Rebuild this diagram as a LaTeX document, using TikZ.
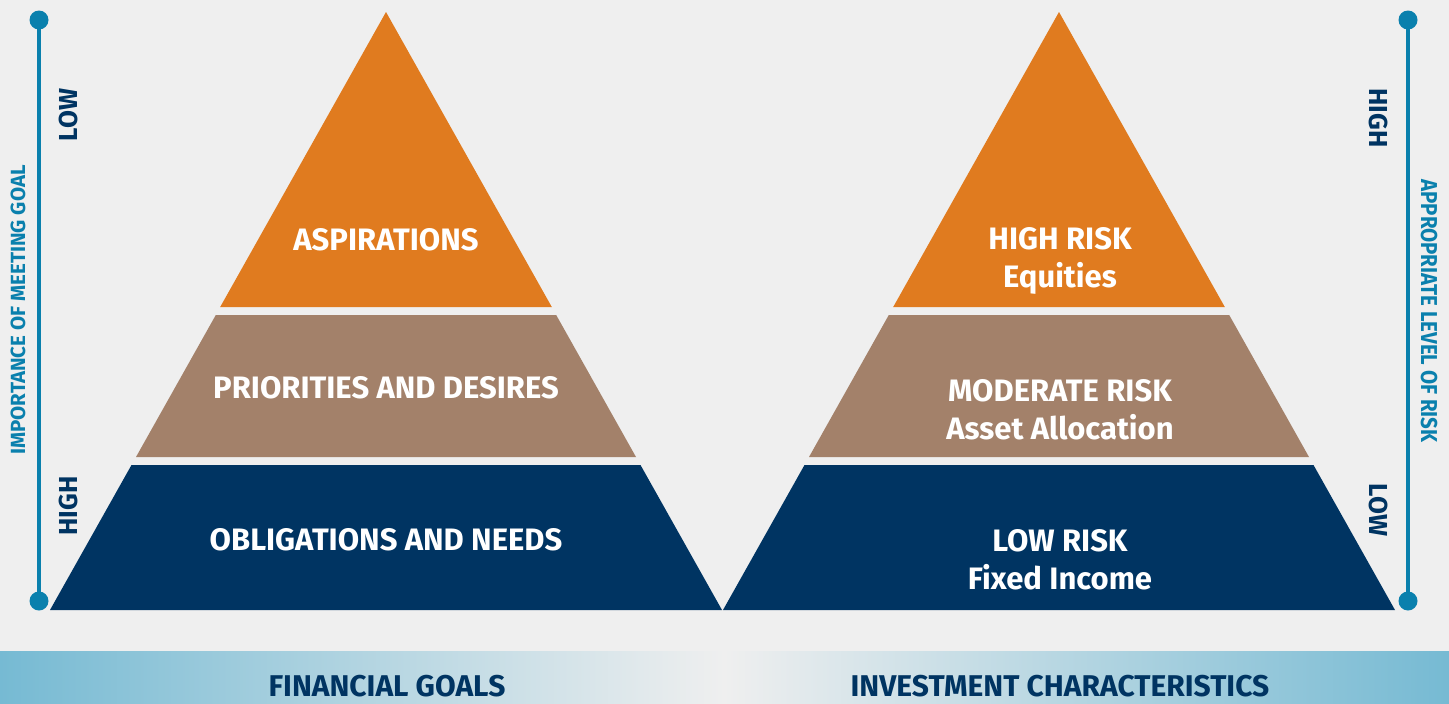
\documentclass[tikz,border=0pt]{standalone}
\usepackage{fontspec}
\setmainfont{Fira Sans}
\newfontfamily\riskfont[FakeStretch=0.89]{Fira Sans}
\usepackage{xcolor}
\usetikzlibrary{positioning}

\definecolor{bgGrey}{HTML}{EFEFEF}
\definecolor{goldOrange}{HTML}{E07B1F}
\definecolor{taupe}{HTML}{A3816A}
\definecolor{navy}{HTML}{003462}
\definecolor{axisBlue}{HTML}{0A80AD}
\definecolor{bandBlue}{HTML}{76BAD3}

\tikzset{
  tier/.style={white, font=\bfseries\fontsize{31}{38}\selectfont, align=center, inner sep=0pt},
  scalelabel/.style={navy, font=\bfseries\fontsize{26}{26}\selectfont, inner sep=0pt},
  axistitle/.style={axisBlue, font=\bfseries\fontsize{20.5}{20.5}\selectfont, inner sep=0pt},
  risktitle/.style={axisBlue, font=\riskfont\bfseries\fontsize{23}{23}\selectfont, inner sep=0pt},
  footer/.style={navy, font=\bfseries\fontsize{30}{30}\selectfont, inner sep=0pt},
  dot/.style={circle, fill=axisBlue, inner sep=0pt, minimum size=19pt},
}

\begin{document}
\begin{tikzpicture}[x=1pt, y=-1pt]
  \useasboundingbox (0,0) rectangle (1449,704);
  \fill[bgGrey] (0,0) rectangle (1449,704);

  % the two pyramids, same shape, shifted
  \foreach \dx in {0,673} {
    \fill[goldOrange] (386+\dx,12) -- (551.8+\dx,307) -- (220.2+\dx,307) -- cycle;
    \fill[taupe] (215.8+\dx,315) -- (556.2+\dx,315) -- (636+\dx,457) -- (136+\dx,457) -- cycle;
    \fill[navy] (131.5+\dx,465) -- (640.5+\dx,465) -- (722+\dx,610) -- (50+\dx,610) -- cycle;
  }

  % tier texts
  \node[tier] (aspire) at (386,240) {ASPIRATIONS};
  \node[tier] (desire) at (386,388) {PRIORITIES AND DESIRES};
  \node[tier] (oblige) at (386,540) {OBLIGATIONS AND NEEDS};
  \node[tier] (highrisk) at (1060,261) {HIGH RISK\\Equities};
  \node[tier] (modrisk) at (1060,410) {MODERATE RISK\\Asset Allocation};
  \node[tier] (lowrisk) at (1060,560) {LOW RISK\\Fixed Income};

  % left scale
  \node[dot] (lTop) at (39,20) {};
  \node[dot] (lBot) at (39,601) {};
  \draw[axisBlue, line width=4pt] (lTop.center) -- (lBot.center);
  \node[scalelabel, rotate=90] (lLow) at (68,115) {LOW};
  \node[scalelabel, rotate=90] (lHigh) at (68,506) {HIGH};
  \node[axistitle, rotate=90] (lTitle) at (18,310) {IMPORTANCE OF MEETING GOAL};

  % right scale
  \node[dot] (rTop) at (1408,20) {};
  \node[dot] (rBot) at (1408,601) {};
  \draw[axisBlue, line width=4pt] (rTop.center) -- (rBot.center);
  \node[scalelabel, rotate=-90] (rHigh) at (1378,118) {HIGH};
  \node[scalelabel, rotate=-90] (rLow) at (1378,510) {LOW};
  \node[risktitle, rotate=-90] (rTitle) at (1429,311) {APPROPRIATE LEVEL OF RISK};

  % footer band
  \shade[left color=bandBlue, right color=bgGrey] (0,651) rectangle (724,704);
  \shade[left color=bgGrey, right color=bandBlue] (724,651) rectangle (1449,704);
  \node[footer] (goals) at (387,686) {FINANCIAL GOALS};
  \node[footer] (traits) at (1060,686) {INVESTMENT CHARACTERISTICS};
\end{tikzpicture}
\end{document}
